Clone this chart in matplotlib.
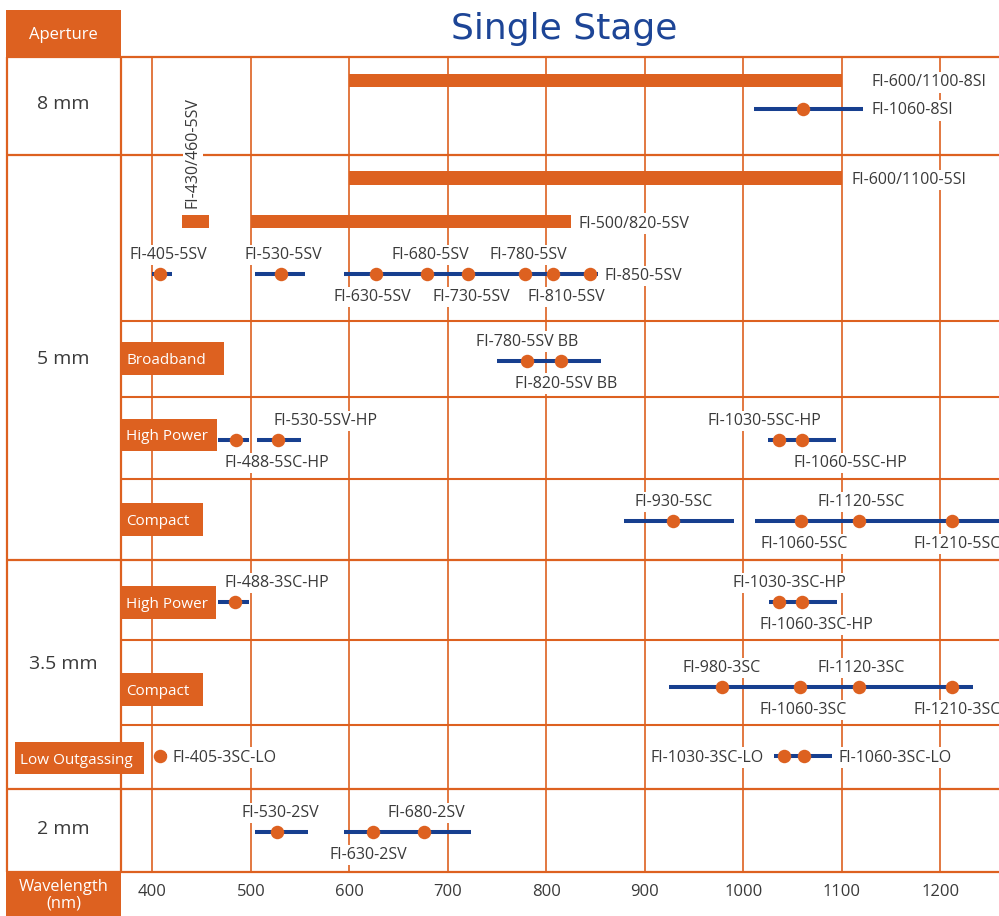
import matplotlib
matplotlib.use("Agg")
import matplotlib.pyplot as plt
from matplotlib.patches import Rectangle

#---------- data ----------

apertures = ["8 mm", "5 mm", "3.5 mm", "2 mm"]
tag_names = ["Broadband", "High Power", "Compact", "High Power", "Compact", "Low Outgassing"]
ticks = [400, 500, 600, 700, 800, 900, 1000, 1100, 1200]

# broadband isolators (orange bars)
bar_names = ["FI-600/1100-8SI", "FI-600/1100-5SI", "FI-430/460-5SV", "FI-500/820-5SV"]
bar_lo = [600, 600, 430, 500]
bar_hi = [1100, 1100, 458, 825]
bar_rows = ["8si_bar", "5si", "5sv_bar", "5sv_bar"]

# tuning ranges (blue lines)
line_rows = ["8si", "5sv", "5sv", "5sv", "bb", "hp5", "hp5", "hp5", "c5", "c5",
             "hp35", "hp35", "c35", "lo", "lo", "2sv", "2sv"]
line_lo = [1011, 400, 504, 595, 750, 467, 506, 1025, 879, 1012, 467, 1026, 925, 404, 1031, 504, 595]
line_hi = [1122, 420, 555, 852, 856, 498, 551, 1094, 991, 1262, 498, 1095, 1233, 415, 1090, 558, 724]

# isolators (orange dots)
dot_names = ["FI-1060-8SI",
             "FI-405-5SV", "FI-530-5SV", "FI-630-5SV", "FI-680-5SV", "FI-730-5SV",
             "FI-780-5SV", "FI-810-5SV", "FI-850-5SV",
             "FI-780-5SV BB", "FI-820-5SV BB",
             "FI-488-5SC-HP", "FI-530-5SV-HP", "FI-1030-5SC-HP", "FI-1060-5SC-HP",
             "FI-930-5SC", "FI-1060-5SC", "FI-1120-5SC", "FI-1210-5SC",
             "FI-488-3SC-HP", "FI-1030-3SC-HP", "FI-1060-3SC-HP",
             "FI-980-3SC", "FI-1060-3SC", "FI-1120-3SC", "FI-1210-3SC",
             "FI-405-3SC-LO", "FI-1030-3SC-LO", "FI-1060-3SC-LO",
             "FI-530-2SV", "FI-630-2SV", "FI-680-2SV"]
dot_wl = [1061,
          408, 531, 627, 679, 721, 778, 807, 844,
          780, 815,
          485, 528, 1036, 1060,
          929, 1059, 1117, 1212,
          484, 1036, 1060,
          978, 1058, 1117, 1212,
          408, 1041, 1062,
          527, 624, 676]
dot_rows = (["8si"] + ["5sv"] * 8 + ["bb"] * 2 + ["hp5"] * 4 + ["c5"] * 4
            + ["hp35"] * 3 + ["c35"] * 4 + ["lo"] * 3 + ["2sv"] * 3)

#---------- layout (pixels of the 999x916 picture) ----------

W, H = 999, 916
PLOT_L, PLOT_R, PLOT_T, PLOT_B = 121, 999, 57, 872
XLIM = (368.2, 1259.6)

row_y = {"8si_bar": 80.5, "8si": 108.5, "5si": 178, "5sv_bar": 221.5, "5sv": 274,
         "bb": 360.5, "hp5": 440, "c5": 521, "hp35": 602, "c35": 687, "lo": 755.5, "2sv": 832}
section_lines = [57, 155, 560, 789, 872]
sub_lines = [321, 397, 479, 640, 725]
aperture_y = [102, 357, 662, 827]
tag_boxes = [(121, 342, 224, 375), (121, 419, 217, 451), (121, 503, 203, 536),
             (121, 586, 216, 619), (121, 673, 203, 706), (15, 742, 144, 774)]

label_dx = [68, 8, 2, -4, 3, 3, 4, 13, 15, 1, 5, 41, 47, -14, 48, 0, 3, 3, 5,
            42, 11, 14, 0, 3, 3, 5, 12, -20, 34, 3, -5, 2]
label_side = ["right", "above", "above", "below", "above", "below", "above", "below", "right",
              "above", "below", "below", "above", "above", "below",
              "above", "below", "above", "below", "above", "above", "below",
              "above", "below", "above", "below", "right", "left", "right",
              "above", "below", "above"]
bar_label_pad = [30, 10, None, 8]

ORANGE = "#dd6120"
BLUE = "#173f8f"
TEXT = "#3a3a3a"
TITLE = "#1d4596"

plt.rcParams['font.family'] = ['Open Sans', 'DejaVu Sans']

#---------- figure ----------

fig = plt.figure(figsize=(W / 100, H / 100), dpi=100)

# frame / background layer
bg = fig.add_axes([0, 0, 1, 1], zorder=0)
bg.set_xlim(0, W)
bg.set_ylim(H, 0)
bg.axis('off')

bg.hlines(section_lines, 6, W, color=ORANGE, lw=1.6)
bg.hlines(sub_lines, PLOT_L, W, color=ORANGE, lw=1.5)
bg.vlines([6.7, 120.7], PLOT_T, PLOT_B, color=ORANGE, lw=1.6)

bg.add_patch(Rectangle((6, 10), 115, 47, color=ORANGE, lw=0))
bg.text(63.5, 33, "Aperture", ha='center', va='center_baseline', color='white', fontsize=12)
bg.add_patch(Rectangle((6, 872), 115, 44, color=ORANGE, lw=0))
bg.text(63.5, 895, "Wavelength\n(nm)", ha='center', va='center', color='white',
        fontsize=11.8, linespacing=1.05)

for name, y in zip(apertures, aperture_y):
    bg.text(63.5, y, name, ha='center', va='center_baseline', color=TEXT, fontsize=14)

bg.text(564, 25, "Single Stage", ha='center', va='center_baseline', color=TITLE,
        fontsize=26, family='DejaVu Sans')

# data layer
ax = fig.add_axes([PLOT_L / W, (H - PLOT_B) / H, (PLOT_R - PLOT_L) / W, (PLOT_B - PLOT_T) / H],
                  zorder=1)
ax.patch.set_alpha(0)
ax.set_xlim(*XLIM)
ax.set_ylim(PLOT_B, PLOT_T)
for s in ax.spines.values():
    s.set_visible(False)
ax.set_yticks([])
ax.set_xticks(ticks)
ax.set_xticklabels([str(t) for t in ticks], fontsize=12, color=TEXT)
ax.tick_params(axis='x', length=0, pad=9)
ax.vlines(ticks, PLOT_T, PLOT_B, color=ORANGE, lw=1.2, zorder=0.5)

label_box = dict(facecolor='white', edgecolor='none', pad=1.5)

for name, lo, hi, row, pad in zip(bar_names, bar_lo, bar_hi, bar_rows, bar_label_pad):
    y = row_y[row]
    ax.barh(y, hi - lo, left=lo, height=13.5, color=ORANGE, zorder=3)
    if pad is None:
        ax.annotate(name, xy=((lo + hi) / 2, y), xytext=(-3, 14), textcoords='offset pixels',
                    rotation=90, ha='center', va='bottom', fontsize=11.5, color=TEXT,
                    bbox=label_box, zorder=5)
    else:
        ax.annotate(name, xy=(hi, y), xytext=(pad, 0), textcoords='offset pixels',
                    ha='left', va='center_baseline', fontsize=11.5, color=TEXT,
                    bbox=label_box, zorder=5)

for row, lo, hi in zip(line_rows, line_lo, line_hi):
    ax.plot([lo, hi], [row_y[row]] * 2, color=BLUE, lw=2.9, solid_capstyle='butt', zorder=3)

for name, wl, row, dx, side in zip(dot_names, dot_wl, dot_rows, label_dx, label_side):
    y = row_y[row]
    ax.plot(wl, y, 'o', ms=9.7, color=ORANGE, mec='none', zorder=4)
    dy = {"above": 21, "below": -21}.get(side, 0)
    ha = {"right": 'left', "left": 'right'}.get(side, 'center')
    ax.annotate(name, xy=(wl, y), xytext=(dx, dy), textcoords='offset pixels',
                ha=ha, va='center_baseline', fontsize=11.5, color=TEXT,
                bbox=label_box, zorder=5, annotation_clip=False)

# tags on top
top = fig.add_axes([0, 0, 1, 1], zorder=2)
top.patch.set_alpha(0)
top.set_xlim(0, W)
top.set_ylim(H, 0)
top.axis('off')
for name, (x0, y0, x1, y1) in zip(tag_names, tag_boxes):
    top.add_patch(Rectangle((x0, y0), x1 - x0, y1 - y0, color=ORANGE, lw=0))
    top.text(x0 + 5, (y0 + y1) / 2, name, ha='left', va='center_baseline',
             color='white', fontsize=11)

fig.savefig("out.png", dpi=100)
